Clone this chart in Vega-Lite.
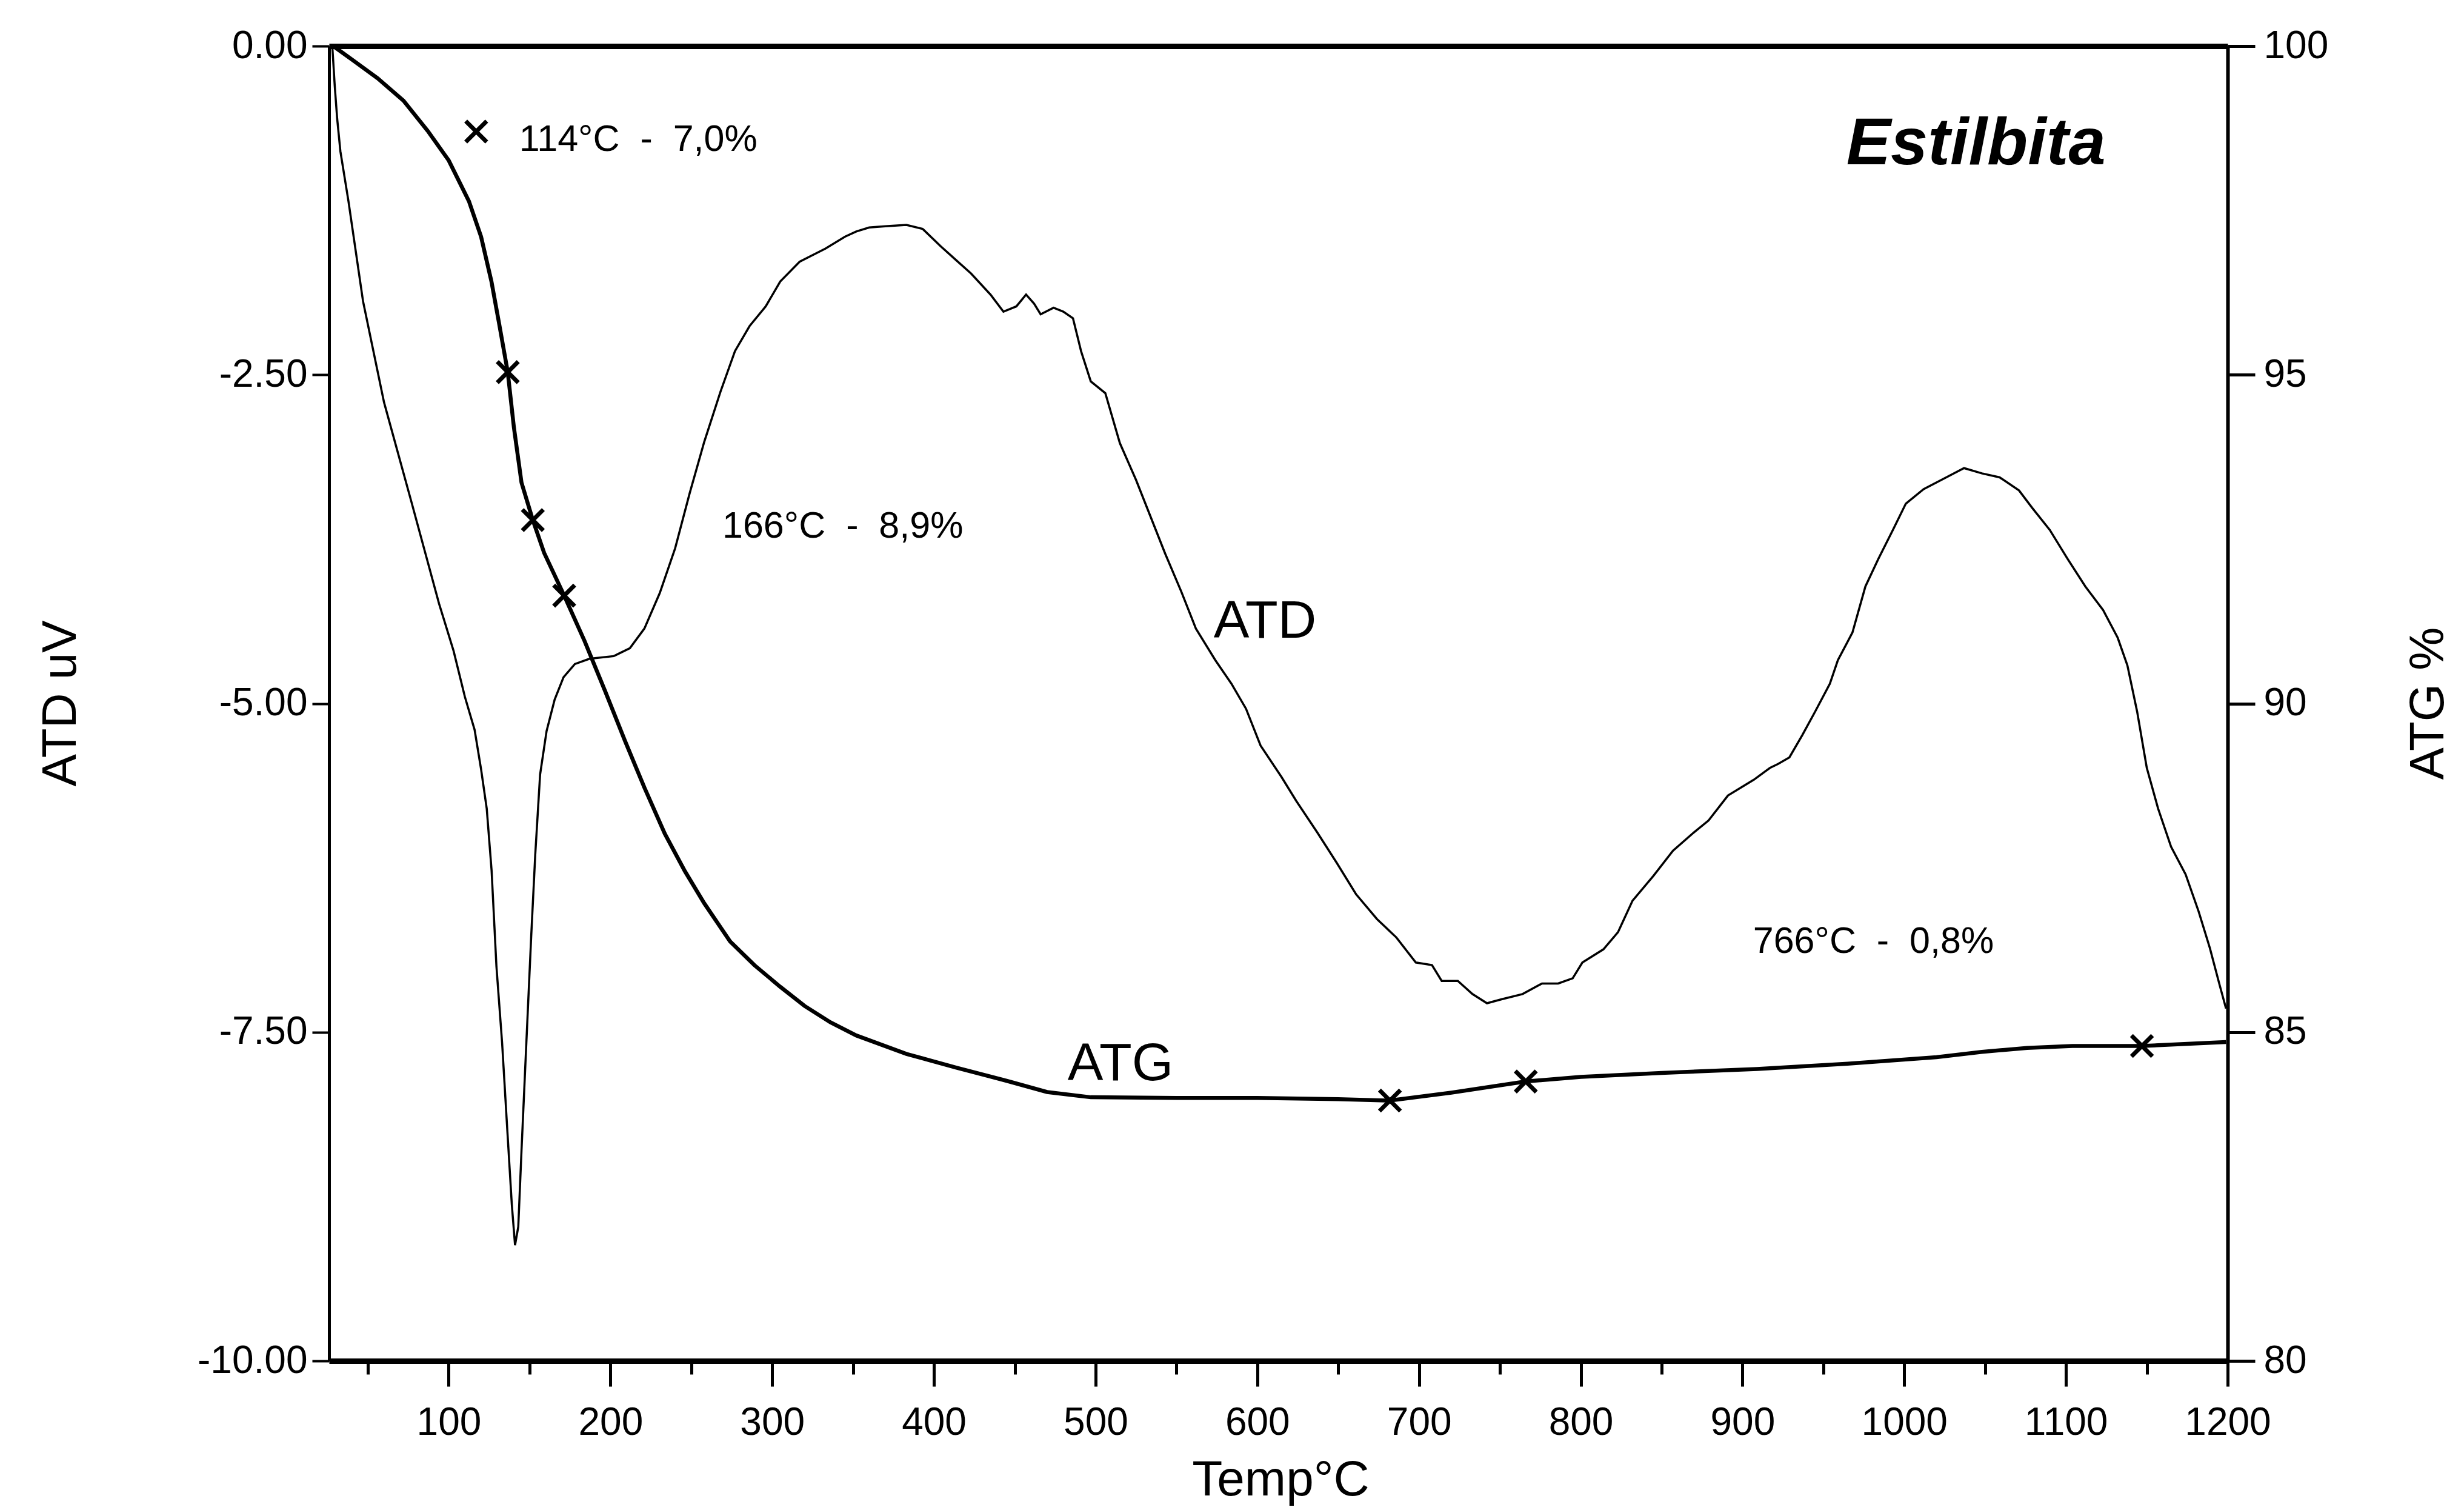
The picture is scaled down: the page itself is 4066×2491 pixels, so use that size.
{
  "$schema": "https://vega.github.io/schema/vega-lite/v6.json",
  "width": 3133,
  "height": 2169,
  "autosize": {"type": "none"},
  "padding": {"left": 543, "top": 76, "right": 390, "bottom": 246},
  "background": "white",
  "config": {
    "view": {"stroke": null},
    "font": "Liberation Sans",
    "axis": {"domainColor": "black", "tickColor": "black", "labelColor": "black", "titleColor": "black", "labelFont": "Liberation Sans", "titleFont": "Liberation Sans", "grid": false, "titleFontWeight": "normal", "labelLimit": 500, "titleLimit": 1000}
  },
  "datasets": {
    "atd": [
      {"t": 28, "atd": 0}, {"t": 29.5, "atd": -0.3}, {"t": 31, "atd": -0.55}, {"t": 33, "atd": -0.8}, {"t": 38, "atd": -1.18},
      {"t": 47, "atd": -1.94}, {"t": 60, "atd": -2.71}, {"t": 77, "atd": -3.47}, {"t": 94, "atd": -4.24}, {"t": 103, "atd": -4.6},
      {"t": 110, "atd": -4.95}, {"t": 116, "atd": -5.2}, {"t": 120, "atd": -5.5}, {"t": 123.5, "atd": -5.8}, {"t": 126.5, "atd": -6.27},
      {"t": 129.5, "atd": -7.0}, {"t": 133, "atd": -7.58}, {"t": 136, "atd": -8.2}, {"t": 139, "atd": -8.81}, {"t": 141, "atd": -9.12},
      {"t": 143, "atd": -8.98}, {"t": 145, "atd": -8.4}, {"t": 148, "atd": -7.58}, {"t": 151, "atd": -6.77}, {"t": 153.5, "atd": -6.15},
      {"t": 156.5, "atd": -5.54}, {"t": 160.5, "atd": -5.21}, {"t": 165.5, "atd": -4.97}, {"t": 171, "atd": -4.8}, {"t": 178, "atd": -4.7},
      {"t": 187, "atd": -4.66}, {"t": 202, "atd": -4.64}, {"t": 212, "atd": -4.58}, {"t": 221, "atd": -4.43}, {"t": 230.5, "atd": -4.16},
      {"t": 240, "atd": -3.82}, {"t": 249, "atd": -3.4}, {"t": 258, "atd": -3.01}, {"t": 268, "atd": -2.63}, {"t": 277, "atd": -2.32},
      {"t": 286, "atd": -2.13}, {"t": 296, "atd": -1.98}, {"t": 305, "atd": -1.79}, {"t": 317, "atd": -1.64}, {"t": 333, "atd": -1.54},
      {"t": 345, "atd": -1.45}, {"t": 352, "atd": -1.41}, {"t": 360, "atd": -1.38}, {"t": 370, "atd": -1.37}, {"t": 383, "atd": -1.36},
      {"t": 393, "atd": -1.39}, {"t": 404, "atd": -1.52}, {"t": 413, "atd": -1.62}, {"t": 423, "atd": -1.73}, {"t": 435, "atd": -1.89},
      {"t": 443, "atd": -2.02}, {"t": 451, "atd": -1.98}, {"t": 457, "atd": -1.89}, {"t": 462, "atd": -1.96}, {"t": 466, "atd": -2.04},
      {"t": 474, "atd": -1.99}, {"t": 480, "atd": -2.02}, {"t": 486, "atd": -2.07}, {"t": 491, "atd": -2.32}, {"t": 497, "atd": -2.55},
      {"t": 506, "atd": -2.64}, {"t": 515, "atd": -3.02}, {"t": 525, "atd": -3.3}, {"t": 534, "atd": -3.58}, {"t": 543, "atd": -3.86},
      {"t": 553, "atd": -4.15}, {"t": 562, "atd": -4.43}, {"t": 574, "atd": -4.67}, {"t": 584, "atd": -4.85}, {"t": 593, "atd": -5.04},
      {"t": 602, "atd": -5.32}, {"t": 615, "atd": -5.56}, {"t": 624, "atd": -5.74}, {"t": 637, "atd": -5.98}, {"t": 649, "atd": -6.21},
      {"t": 661, "atd": -6.45}, {"t": 674, "atd": -6.64}, {"t": 686, "atd": -6.78}, {"t": 698, "atd": -6.97}, {"t": 708, "atd": -6.99},
      {"t": 714, "atd": -7.11}, {"t": 724, "atd": -7.11}, {"t": 733, "atd": -7.21}, {"t": 742, "atd": -7.28}, {"t": 751, "atd": -7.25},
      {"t": 764, "atd": -7.21}, {"t": 776, "atd": -7.13}, {"t": 786, "atd": -7.13}, {"t": 795, "atd": -7.09}, {"t": 801, "atd": -6.97},
      {"t": 814, "atd": -6.87}, {"t": 823, "atd": -6.74}, {"t": 832, "atd": -6.5}, {"t": 845, "atd": -6.31}, {"t": 857, "atd": -6.12},
      {"t": 870, "atd": -5.98}, {"t": 879, "atd": -5.89}, {"t": 891, "atd": -5.7}, {"t": 907, "atd": -5.58}, {"t": 917, "atd": -5.49},
      {"t": 922, "atd": -5.46}, {"t": 929, "atd": -5.41}, {"t": 937, "atd": -5.24}, {"t": 945, "atd": -5.06}, {"t": 954, "atd": -4.85},
      {"t": 959, "atd": -4.67}, {"t": 968, "atd": -4.46}, {"t": 976, "atd": -4.11}, {"t": 984, "atd": -3.9}, {"t": 993, "atd": -3.68},
      {"t": 1001, "atd": -3.48}, {"t": 1012, "atd": -3.37}, {"t": 1026, "atd": -3.28}, {"t": 1037, "atd": -3.21}, {"t": 1048, "atd": -3.25},
      {"t": 1059, "atd": -3.28}, {"t": 1071, "atd": -3.38}, {"t": 1079, "atd": -3.51}, {"t": 1090, "atd": -3.68}, {"t": 1101, "atd": -3.9},
      {"t": 1112, "atd": -4.11}, {"t": 1123, "atd": -4.29}, {"t": 1132, "atd": -4.5}, {"t": 1138, "atd": -4.71}, {"t": 1144, "atd": -5.06},
      {"t": 1150, "atd": -5.49}, {"t": 1157, "atd": -5.8}, {"t": 1165, "atd": -6.09}, {"t": 1174, "atd": -6.3}, {"t": 1182, "atd": -6.58},
      {"t": 1189, "atd": -6.86}, {"t": 1195, "atd": -7.14}, {"t": 1199, "atd": -7.32}
    ],
    "atg": [
      {"t": 28.6, "atg": 100}, {"t": 41, "atg": 99.78}, {"t": 56, "atg": 99.51}, {"t": 72, "atg": 99.17}, {"t": 87, "atg": 98.71},
      {"t": 100, "atg": 98.26}, {"t": 112.5, "atg": 97.64}, {"t": 120, "atg": 97.1}, {"t": 126.4, "atg": 96.42}, {"t": 131, "atg": 95.8},
      {"t": 136.5, "atg": 95.04}, {"t": 140.3, "atg": 94.2}, {"t": 145, "atg": 93.36}, {"t": 152, "atg": 92.79}, {"t": 159, "atg": 92.29},
      {"t": 171.4, "atg": 91.64}, {"t": 184, "atg": 90.95}, {"t": 196.5, "atg": 90.2}, {"t": 209, "atg": 89.43}, {"t": 221, "atg": 88.72},
      {"t": 233.6, "atg": 88.02}, {"t": 246, "atg": 87.45}, {"t": 258, "atg": 86.96}, {"t": 274, "atg": 86.38}, {"t": 289, "atg": 86.02},
      {"t": 305, "atg": 85.69}, {"t": 320, "atg": 85.4}, {"t": 336, "atg": 85.15}, {"t": 352, "atg": 84.95}, {"t": 383, "atg": 84.67},
      {"t": 414, "atg": 84.46}, {"t": 445, "atg": 84.26}, {"t": 470, "atg": 84.09}, {"t": 497, "atg": 84.01}, {"t": 550, "atg": 84.0},
      {"t": 600, "atg": 84.0}, {"t": 650, "atg": 83.98}, {"t": 682, "atg": 83.96}, {"t": 720, "atg": 84.08}, {"t": 766, "atg": 84.25},
      {"t": 800, "atg": 84.32}, {"t": 850, "atg": 84.38}, {"t": 909, "atg": 84.44}, {"t": 965, "atg": 84.52}, {"t": 1020, "atg": 84.62},
      {"t": 1048, "atg": 84.7}, {"t": 1076, "atg": 84.76}, {"t": 1104, "atg": 84.79}, {"t": 1147, "atg": 84.79}, {"t": 1199, "atg": 84.85}
    ],
    "marks": [
      {"t": 117, "atg": 98.7}, {"t": 136.5, "atg": 95.04}, {"t": 152, "atg": 92.79}, {"t": 171.4, "atg": 91.64},
      {"t": 682, "atg": 83.96}, {"t": 766, "atg": 84.25}, {"t": 1147, "atg": 84.79}
    ],
    "notes": [
      {"t": 143.6, "atd": -0.798, "label": "114°C\u00a0\u00a0-\u00a0\u00a07,0%"},
      {"t": 269.2, "atd": -3.739, "label": "166°C\u00a0\u00a0-\u00a0\u00a08,9%"},
      {"t": 906.5, "atd": -6.897, "label": "766°C\u00a0\u00a0-\u00a0\u00a00,8%"}
    ],
    "curvelabels": [
      {"t": 573, "atd": -4.5, "label": "ATD"},
      {"t": 482.7, "atd": -7.865, "label": "ATG"}
    ],
    "titletext": [
      {"t": 964.2, "atd": -0.899, "label": "Estilbita"}
    ]
  },
  "layer": [
    {
      "encoding": {
        "x": {"field": "t", "type": "quantitative", "scale": {"domain": [26, 1200], "nice": false, "zero": false},
          "axis": {"orient": "bottom", "values": [100, 200, 300, 400, 500, 600, 700, 800, 900, 1000, 1100, 1200], "format": "d",
            "tickSize": 42, "tickWidth": 5, "domainWidth": 9, "labelFontSize": 64, "labelPadding": 28, "labelFlush": false, "labelOverlap": false,
            "title": "Temp°C", "titleFontSize": 82, "titleX": 1570, "titleY": 221, "titleAlign": "center", "titleBaseline": "alphabetic"}},
        "y": {"field": "atd", "type": "quantitative", "scale": {"domain": [-10, 0], "nice": false, "zero": false},
          "axis": {"orient": "left", "values": [0, -2.5, -5, -7.5, -10], "format": ".2f", "labelExpr": "replace(datum.label, '\u2212', '-')",
            "tickSize": 28, "tickWidth": 4, "domainWidth": 5, "labelFontSize": 64, "labelPadding": 8, "labelLimit": 500,
            "title": "ATD uV", "titleFontSize": 80, "titleAngle": 270, "titleX": -419, "titleY": 1084, "titleAlign": "center", "titleBaseline": "alphabetic"}}
      },
      "layer": [
        {"data": {"name": "atd"}, "mark": {"type": "line", "color": "black", "strokeWidth": 3.5}}
      ]
    },
    {
      "encoding": {
        "x": {"field": "t", "type": "quantitative", "scale": {"domain": [26, 1200], "nice": false, "zero": false},
          "axis": {"orient": "top", "ticks": false, "labels": false, "domainWidth": 9, "title": null}},
        "y": {"field": "atg", "type": "quantitative", "scale": {"domain": [80, 100], "nice": false, "zero": false},
          "axis": {"orient": "right", "values": [80, 85, 90, 95, 100], "format": "d", "tickSize": 45, "tickWidth": 5, "domainWidth": 6,
            "labelFontSize": 64, "labelPadding": 14, "title": "ATG %", "titleFontSize": 80, "titleAngle": 270, "titleX": 355, "titleY": 1084,
            "titleAlign": "center", "titleBaseline": "alphabetic"}}
      },
      "layer": [
        {"data": {"name": "atg"}, "mark": {"type": "line", "color": "black", "strokeWidth": 6.5}},
        {"data": {"name": "marks"}, "mark": {"type": "point", "shape": "M-1,-1L1,1M-1,1L1,-1", "filled": false, "stroke": "black", "strokeWidth": 7, "size": 1200, "opacity": 1}}
      ]
    },
    {
      "encoding": {
        "x": {"field": "t", "type": "quantitative", "scale": {"domain": [26, 1200], "nice": false, "zero": false},
          "axis": {"orient": "bottom", "values": [50, 150, 250, 350, 450, 550, 650, 750, 850, 950, 1050, 1150], "tickSize": 22, "tickWidth": 5,
            "labels": false, "domain": false, "title": null}},
        "y": {"field": "atd", "type": "quantitative", "scale": {"domain": [-10, 0], "nice": false, "zero": false}, "axis": null}
      },
      "layer": [
        {"data": {"name": "notes"}, "mark": {"type": "text", "align": "left", "baseline": "alphabetic", "fontSize": 61, "font": "Liberation Sans", "color": "black"},
          "encoding": {"text": {"field": "label", "type": "nominal"}}},
        {"data": {"name": "curvelabels"}, "mark": {"type": "text", "align": "left", "baseline": "alphabetic", "fontSize": 88, "font": "Liberation Sans", "color": "black"},
          "encoding": {"text": {"field": "label", "type": "nominal"}}},
        {"data": {"name": "titletext"}, "mark": {"type": "text", "align": "left", "baseline": "alphabetic", "fontSize": 110, "font": "Liberation Sans", "fontStyle": "italic", "fontWeight": "bold", "color": "black"},
          "encoding": {"text": {"field": "label", "type": "nominal"}}}
      ]
    }
  ],
  "resolve": {"scale": {"x": "independent", "y": "independent"}}
}
